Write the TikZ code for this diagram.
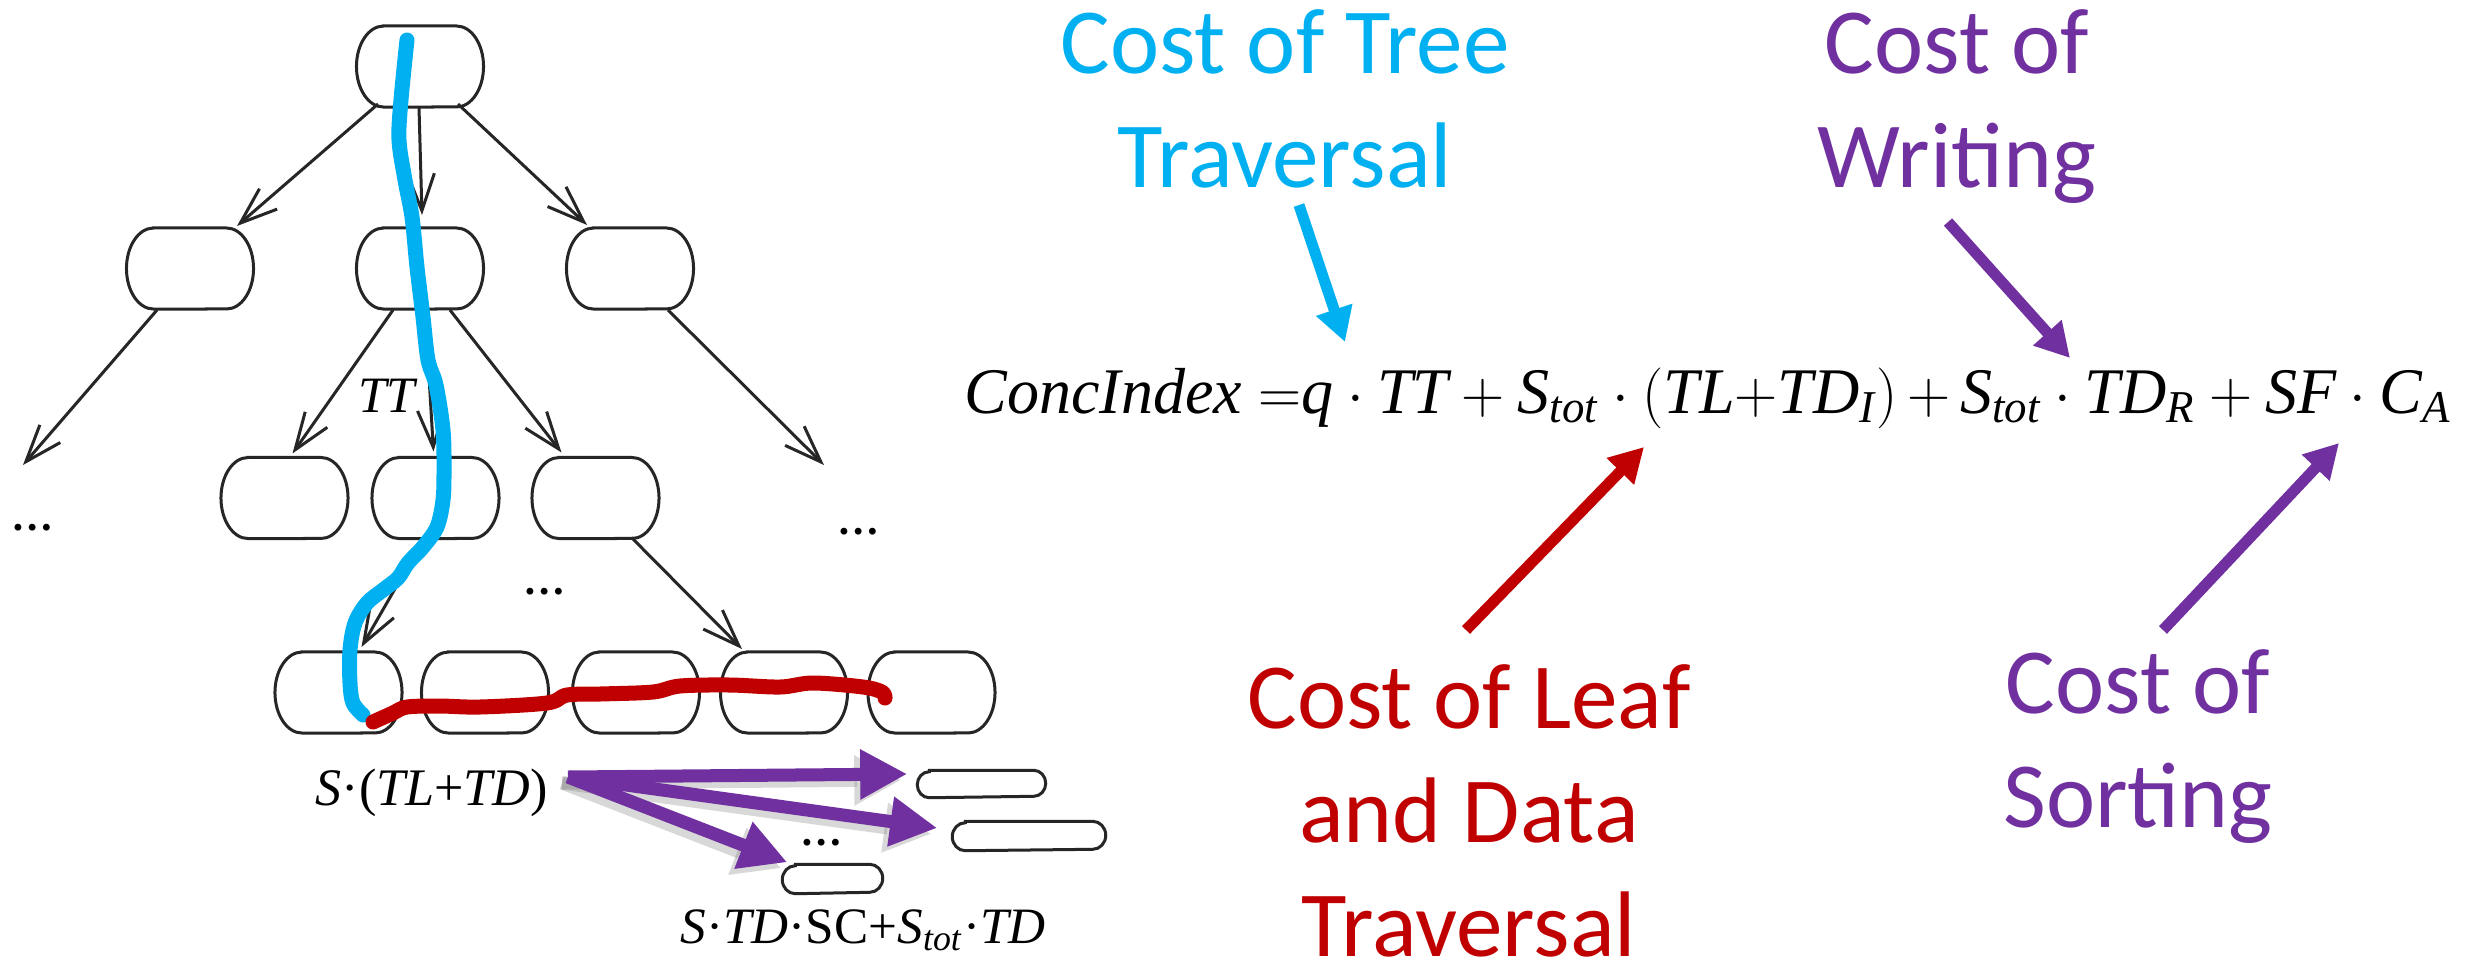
\documentclass[tikz,border=0pt]{standalone}
\usepackage{amsmath}
\usepackage{graphicx}
\usepackage{fontspec}
\setmainfont{Liberation Serif}
\newfontfamily\calib{Carlito}
\usetikzlibrary{arrows.meta,calc}
\definecolor{treecyan}{HTML}{00B0F0}
\definecolor{leafred}{HTML}{C00000}
\definecolor{sortpurple}{HTML}{7030A0}

% outline of a cell: straight top/bottom, half-elliptic ends
\newcommand\cellrim[3]{%
  \draw[cellline] ($(#1.north west)+(#2,0)$) -- ($(#1.north east)+(-#2,0)$)
    arc[start angle=-90,end angle=90,x radius=#2,y radius=#3]
    -- ($(#1.south west)+(#2,0)$)
    arc[start angle=90,end angle=270,x radius=#2,y radius=#3] -- cycle;}

\tikzset{
  cellbox/.style={inner sep=0pt, outer sep=0pt, minimum width=1.27cm, minimum height=0.81cm},
  cellline/.style={line width=0.03cm, draw=black!85},
  treeedge/.style={line width=0.03cm, draw=black!85, -{Straight Barb[length=0.37cm,width=0.27cm]}},
  dotsmark/.style={font=\bfseries\fontsize{12}{12}\selectfont, inner sep=0pt},
  formula/.style={inner sep=0pt, anchor=base west},
  costlabel/.style={font=\calib\fontsize{26.5}{32.4}\selectfont, align=center, inner sep=0pt, anchor=base},
  pointer/.style={line width=0.11cm, -{Triangle[length=0.34cm,width=0.36cm]}},
  fanarrow/.style={line width=0.13cm, draw=sortpurple, -{Triangle[length=0.47cm,width=0.47cm]}},
  fanshadow/.style={line width=0.13cm, draw=black!50, opacity=0.3, -{Triangle[length=0.47cm,width=0.47cm]}},
  stroke/.style={line width=0.15cm, line cap=round, line join=round},
}

\begin{document}
\begin{tikzpicture}[x=0.01cm, y=-0.01cm]
\fill[white] (0,0) rectangle (2478,969);
\useasboundingbox (0,0) rectangle (2478,969);

% ---------- tree nodes ----------
\node[cellbox] (r) at (420,66.5) {};
\node[cellbox] (a) at (190,268.5) {};
\node[cellbox] (b) at (420,268.5) {};
\node[cellbox] (c) at (630,268.5) {};
\node[cellbox] (d) at (284.5,498) {};
\node[cellbox] (e) at (435.5,498) {};
\node[cellbox] (f) at (595.5,498) {};
\node[cellbox] (l1) at (338.5,692.5) {};
\node[cellbox] (l2) at (485,692.5) {};
\node[cellbox] (l3) at (636,692.5) {};
\node[cellbox] (l4) at (784,692.5) {};
\node[cellbox] (l5) at (931.5,692.5) {};
\foreach \n in {r,a,b,c,d,e,f,l1,l2,l3,l4,l5} {\cellrim{\n}{27}{40.5}}

% sorted output runs
\node[inner sep=0pt, minimum width=1.27cm, minimum height=0.26cm] (boxA) at (981.5,784) {};
\node[inner sep=0pt, minimum width=1.52cm, minimum height=0.28cm] (boxB) at (1029,836) {};
\node[inner sep=0pt, minimum width=0.99cm, minimum height=0.28cm] (boxC) at (832.5,879) {};
\cellrim{boxA}{12}{13}
\cellrim{boxB}{13}{14}
\cellrim{boxC}{13}{14}

% elided parts
\node[dotsmark] (dL) at (33,528) {…};
\node[dotsmark] (dR) at (859,532) {…};
\node[dotsmark] (dM) at (545,592) {…};
\node[dotsmark] (dB) at (822,843) {…};

% ---------- tree edges ----------
\draw[treeedge] ([shift={(-42,-3)}]r.south) -- ([shift={(47,-2)}]a.north);
\draw[treeedge] ([shift={(-1,0)}]r.south) -- ([shift={(2,-13)}]b.north);
\draw[treeedge] ([shift={(38,-3)}]r.south) -- ([shift={(-43,-3)}]c.north);
\draw[treeedge] ([shift={(-33,1)}]a.south) -- ([shift={(-10,-63)}]dL.center);
\draw[treeedge] ([shift={(-27,1)}]b.south) -- ([shift={(8,-4)}]d.north);
\draw[treeedge] ([shift={(5,1)}]b.south) -- ([shift={(-2,-6)}]e.north);
\draw[treeedge] ([shift={(30,1)}]b.south) -- ([shift={(-34,-5)}]f.north);
\draw[treeedge] ([shift={(38,1)}]c.south) -- ([shift={(-35,-67)}]dR.center);
\draw[treeedge] ([shift={(36,-1)}]f.south) -- ([shift={(-42,-3)}]l4.north);
\draw[treeedge] ([shift={(-11,-1)}]e.south) -- ([shift={(23,-5)}]l1.north);

% ---------- tree cost labels ----------
\node[font=\fontsize{14.5}{16}\selectfont\itshape, anchor=base, inner sep=0pt] (tt) at (387,412) {TT};
\node[formula] (sl) at (315,805) {\resizebox{2.32cm}{\height}{\fontsize{15}{17}\selectfont\textit{S}·(\textit{TL}+\textit{TD})}};
\node[formula] (sd) at (680,943) {\resizebox{3.65cm}{\height}{\fontsize{14.5}{17}\selectfont\textit{S}·\textit{TD}·SC+\textit{S}\textsubscript{\textit{tot}}·\textit{TD}}};

% ---------- highlighted paths ----------
\draw[stroke, treecyan] plot[smooth, tension=0.55] coordinates {
  (407,40) (401,100) (399,140) (405,180) (412,217) (417,267) (423,317)
  (428,360) (436,385) (443,430) (444,470) (443,500) (437,527) (423,547)
  (408,563) (398,578) (383,590) (367,603) (355,623) (350,650) (350,683)
  (353,703) (363,715)};
\draw[stroke, leafred] plot[smooth, tension=0.55] coordinates {
  (373,722) (393,713) (407,707) (440,706) (480,707) (547,703) (567,695)
  (600,694) (653,692) (680,686) (730,685) (780,687) (813,683) (863,687)
  (882,692) (885,698)};

% ---------- writing fan ----------
\coordinate (fan) at (568,777);
\coordinate (fanS) at (562,783);
\draw[fanshadow] (fanS) -- ([shift={(-16,-4)}]boxA.west);
\draw[fanshadow] (fanS) -- ([shift={(-21,-2)}]boxB.west);
\draw[fanshadow] (fanS) -- ([shift={(-1,4)}]boxC.north west);
\draw[fanarrow] (fan) -- ([shift={(-10,-10)}]boxA.west);
\draw[fanarrow] (fan) -- ([shift={(-15,-8)}]boxB.west);
\draw[fanarrow] (fan) -- ([shift={(5,-2)}]boxC.north west);

% ---------- formula ----------
\node[formula] (eq) at (964,413) {\resizebox{14.86cm}{\height}{\fontsize{18.5}{22}\selectfont
  $\textit{ConcIndex}\;{=}\textit{q}\cdot\textit{TT}+\textit{S}_{\textit{tot}}\cdot\left(\textit{TL}{+}\textit{TD}_{\textit{I}}\right){+}\,\textit{S}_{\textit{tot}}\cdot\textit{TD}_{\textit{R}}+\textit{SF}\cdot\textit{C}_{\textit{A}}$}};

% ---------- cost annotations ----------
\node[costlabel, text=treecyan] (lblTree) at (1285,187) {Cost of Tree\\Traversal};
\node[costlabel, text=sortpurple] (lblWrite) at (1957,187) {Cost of\\Writing};
\node[costlabel, text=leafred] (lblLeaf) at (1469,956) {Cost of Leaf\\and Data\\Traversal};
\node[costlabel, text=sortpurple] (lblSort) at (2138,827) {Cost of\\Sorting};

\coordinate (fromTree) at (1299,205);
\coordinate (toTree) at (1345,342);
\coordinate (fromWrite) at (1948,222);
\coordinate (toWrite) at (2070,358);
\coordinate (fromLeaf) at (1466,630);
\coordinate (toLeaf) at (1644,447);
\coordinate (fromSort) at (2163,630);
\coordinate (toSort) at (2339,443);

\draw[pointer, draw=treecyan] (fromTree) -- (toTree);
\draw[pointer, draw=sortpurple] (fromWrite) -- (toWrite);
\draw[pointer, draw=leafred] (fromLeaf) -- (toLeaf);
\draw[pointer, draw=sortpurple] (fromSort) -- (toSort);
\end{tikzpicture}
\end{document}
